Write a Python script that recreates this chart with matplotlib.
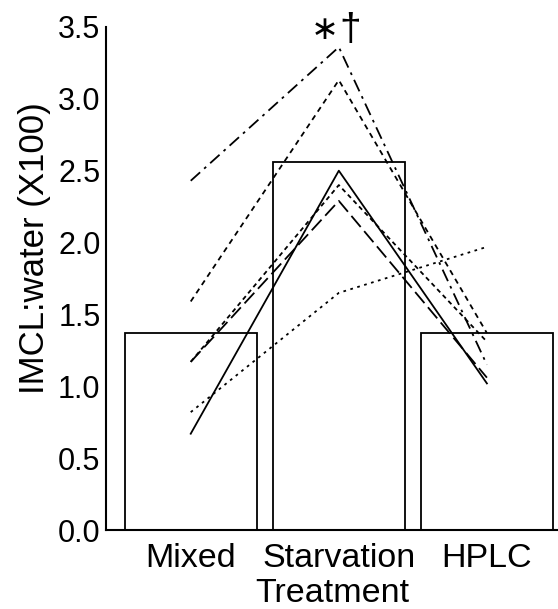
import numpy as np
import matplotlib
matplotlib.use("Agg")
import matplotlib.pyplot as plt

plt.rcParams['font.family'] = ['Liberation Sans', 'DejaVu Sans']

# treatment groups and group means
treatments = ["Mixed", "Starvation", "HPLC"]
means = [1.37, 2.56, 1.37]

# individual subjects across the three treatments
subj_dashdot = [2.43, 3.36, 1.15]
subj_dashed = [1.59, 3.13, 1.37]
subj_shortdash = [1.17, 2.40, 1.31]
subj_longdash = [1.17, 2.29, 1.06]
subj_solid = [0.67, 2.50, 1.02]
subj_dotted = [0.82, 1.65, 1.97]

fig = plt.figure(figsize=(5.58, 6.09), dpi=100)
ax = fig.add_axes([0.19, 0.1297, 0.81, 0.826])

x = np.arange(len(treatments))
ax.bar(x, means, width=0.89, facecolor='white', edgecolor='black',
       linewidth=1.3, zorder=1)

subjects = [
    (subj_dashdot, (0, (7, 3, 1.5, 3))),
    (subj_dashed, (0, (3, 2.5))),
    (subj_shortdash, (0, (2.5, 2))),
    (subj_longdash, (0, (8, 3))),
    (subj_solid, '-'),
    (subj_dotted, (0, (1.5, 2.5))),
]
for vals, ls in subjects:
    ax.plot(x, vals, color='black', linestyle=ls, linewidth=1.3, zorder=2)

# significance markers over the starvation group
ax.annotate("\u2217", (1, 3.48), xytext=(-10, 0), textcoords='offset points',
            ha='center', va='center', fontsize=24, family='DejaVu Sans')
ax.annotate("\u2020", (1, 3.48), xytext=(8, 0), textcoords='offset points',
            ha='center', va='center', fontsize=28, family='Liberation Sans')

ax.set_xlim(-0.572, 2.48)
ax.set_ylim(0, 3.5)
ax.set_yticks(np.arange(0, 3.51, 0.5))
ax.set_yticklabels([f"{v:.1f}" for v in np.arange(0, 3.51, 0.5)])
ax.set_xticks(x)
ax.set_xticklabels(treatments)
ax.tick_params(axis='both', length=0)
ax.tick_params(axis='y', pad=4, labelsize=22)
ax.tick_params(axis='x', pad=9, labelsize=24.5)

for side in ['top', 'right']:
    ax.spines[side].set_visible(False)
for side in ['left', 'bottom']:
    ax.spines[side].set_linewidth(1.5)

ax.set_xlabel("Treatment", fontsize=24.5, labelpad=3)
ax.set_ylabel("IMCL:water (X100)", fontsize=25)
ax.yaxis.set_label_coords(-0.122, 0.56)

fig.savefig("out.png", dpi=100)
